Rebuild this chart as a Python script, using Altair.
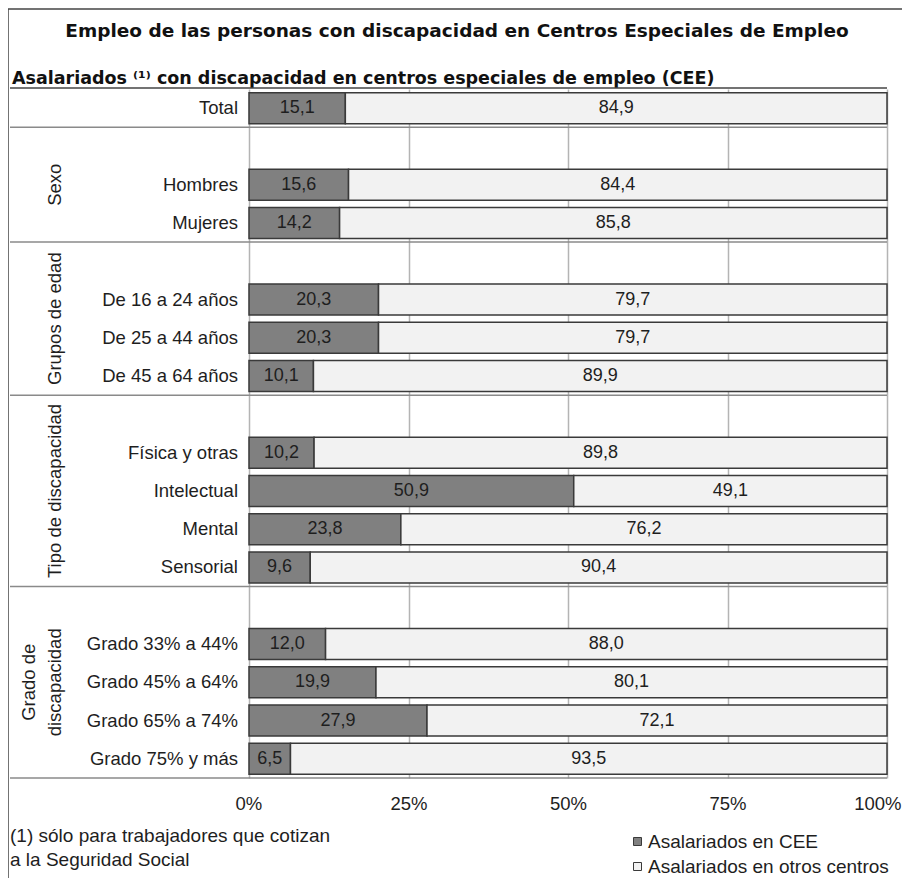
import altair as alt
import pandas as pd

# ---------------- data ----------------
labels = ["Total", "Hombres", "Mujeres",
          "De 16 a 24 años", "De 25 a 44 años", "De 45 a 64 años",
          "Física y otras", "Intelectual", "Mental", "Sensorial",
          "Grado 33% a 44%", "Grado 45% a 64%", "Grado 65% a 74%", "Grado 75% y más"]
cee = [15.1, 15.6, 14.2, 20.3, 20.3, 10.1, 10.2, 50.9, 23.8, 9.6, 12.0, 19.9, 27.9, 6.5]
otros = [84.9, 84.4, 85.8, 79.7, 79.7, 89.9, 89.8, 49.1, 76.2, 90.4, 88.0, 80.1, 72.1, 93.5]
row_order = ["Total", "_b1", "Hombres", "Mujeres", "_b2",
             "De 16 a 24 años", "De 25 a 44 años", "De 45 a 64 años", "_b3",
             "Física y otras", "Intelectual", "Mental", "Sensorial", "_b4",
             "Grado 33% a 44%", "Grado 45% a 64%", "Grado 65% a 74%", "Grado 75% y más"]
group_last = ["Total", "Mujeres", "De 45 a 64 años", "Sensorial", "Grado 75% y más"]
group_names = ["Sexo", "Grupos de edad", "Tipo de discapacidad"]
group_spans = [(1, 4), (4, 8), (8, 13)]
grado_lines = ["Grado de", "discapacidad"]
grado_span = (13, 18)
series = ["Asalariados en CEE", "Asalariados en otros centros"]
colors = ["#808080", "#f2f2f2"]
tick_values = [0, 25, 50, 75, 100]

title = "Empleo de las personas con discapacidad en Centros Especiales de Empleo"
subtitle = "Asalariados ⁽¹⁾ con discapacidad en centros especiales de empleo (CEE)"
foot = ["(1) sólo para trabajadores que cotizan", "a la Seguridad Social"]

# ---------------- layout ----------------
W, H = 638, 689
step = H / len(row_order)
PAD_IN = 0.19
FONT = "Liberation Sans"
TXT = "#1e1e1e"


def fmt(v):
    return f"{v:.1f}".replace(".", ",")


rows = []
for lab, a, b in zip(labels, cee, otros):
    rows.append(dict(key=lab, serie=series[0], x0=0, x1=a, mid=a / 2, txt=fmt(a)))
    rows.append(dict(key=lab, serie=series[1], x0=a, x1=a + b, mid=a + b / 2, txt=fmt(b)))
bars_df = pd.DataFrame(rows)
labels_df = pd.DataFrame({"key": labels})
sep_df = pd.DataFrame({"key": group_last})

xsc = alt.Scale(domain=[0, 100], nice=False, zero=True)
ysc = alt.Scale(domain=row_order, paddingInner=PAD_IN, paddingOuter=PAD_IN / 2)
sep_offset = step * PAD_IN / 2

x_axis = alt.Axis(values=tick_values, grid=True, gridColor="#b4b4b4", gridWidth=1.5,
                  domain=False, ticks=False, tickSize=0, labelPadding=16,
                  labelFlush=True, labelFlushOffset=14,
                  labelExpr="datum.value + '%'", labelFont=FONT, labelFontSize=18.5,
                  labelColor=TXT, title=None)

bars = alt.Chart(bars_df).mark_bar(stroke="#3a3a3a", strokeWidth=1.5).encode(
    y=alt.Y("key:N", scale=ysc, axis=None),
    x=alt.X("x0:Q", scale=xsc, axis=x_axis),
    x2="x1:Q",
    color=alt.Color("serie:N", scale=alt.Scale(domain=series, range=colors),
                    legend=alt.Legend(orient="none", legendX=379, legendY=743, title=None,
                                      symbolType="square", symbolSize=64,
                                      symbolStrokeColor="#3a3a3a", symbolStrokeWidth=1,
                                      labelFont=FONT, labelFontSize=19, labelColor=TXT,
                                      labelLimit=400, labelOffset=1, rowPadding=5)),
)

values = alt.Chart(bars_df).mark_text(font=FONT, fontSize=18, color=TXT, baseline="middle").encode(
    y=alt.Y("key:N", scale=ysc, axis=None),
    x=alt.X("mid:Q", scale=xsc, axis=x_axis),
    text="txt:N",
)

cat_labels = alt.Chart(labels_df).mark_text(font=FONT, fontSize=18.5, color=TXT, align="right",
                                            baseline="middle").encode(
    y=alt.Y("key:N", scale=ysc, axis=None),
    x=alt.value(-11),
    text="key:N",
)

separators = alt.Chart(sep_df).mark_rule(color="#8a8a8a", strokeWidth=1.5, yOffset=sep_offset).encode(
    y=alt.Y("key:N", scale=ysc, axis=None, bandPosition=1),
    x=alt.value(-239),
    x2=alt.value(W),
)

layers = [bars, separators, values, cat_labels]

# group labels (rotated)
for name, (s, e) in zip(group_names, group_spans):
    layers.append(alt.Chart(pd.DataFrame({"t": [name]})).mark_text(
        font=FONT, fontSize=18.5, color=TXT, angle=270, align="center", baseline="middle").encode(
        text="t:N", x=alt.value(-194), y=alt.value((s + e) / 2 * step)))
for txt, xx in zip(grado_lines, [-220, -194]):
    layers.append(alt.Chart(pd.DataFrame({"t": [txt]})).mark_text(
        font=FONT, fontSize=18.5, color=TXT, angle=270, align="center", baseline="middle").encode(
        text="t:N", x=alt.value(xx), y=alt.value((grado_span[0] + grado_span[1]) / 2 * step)))

# title, subtitle, frame
layers.append(alt.Chart(pd.DataFrame({"t": [title]})).mark_text(
    font="DejaVu Sans", fontWeight="bold", fontSize=18.5, color="#111", align="center",
    baseline="alphabetic").encode(text="t:N", x=alt.value(208), y=alt.value(-52)))
layers.append(alt.Chart(pd.DataFrame({"t": [subtitle]})).mark_text(
    font="DejaVu Sans", fontWeight="bold", fontSize=17.5, color="#111", align="left",
    baseline="alphabetic").encode(text="t:N", x=alt.value(-237), y=alt.value(-5)))
layers.append(alt.Chart(pd.DataFrame({"a": [0]})).mark_rule(color="#444", strokeWidth=1.5).encode(
    x=alt.value(-239), x2=alt.value(W), y=alt.value(-1)))
layers.append(alt.Chart(pd.DataFrame({"a": [0]})).mark_rule(color="#444", strokeWidth=1.5).encode(
    x=alt.value(-241), x2=alt.value(W + 30), y=alt.value(-80)))
layers.append(alt.Chart(pd.DataFrame({"a": [0]})).mark_rule(color="#444", strokeWidth=1.5).encode(
    x=alt.value(-241), y=alt.value(-80), y2=alt.value(H + 120)))

# footnote
for i, line in enumerate(foot):
    layers.append(alt.Chart(pd.DataFrame({"t": [line]})).mark_text(
        font=FONT, fontSize=19, color=TXT, align="left", baseline="middle").encode(
        text="t:N", x=alt.value(-239), y=alt.value(747 + 24 * i)))

chart = alt.layer(*layers).properties(
    width=W, height=H,
    autosize=alt.AutoSizeParams(type="none"),
    padding={"left": 241, "top": 81, "right": 15, "bottom": 100},
).configure_view(stroke=None)

chart.save("out.html", embed_options={"renderer": "svg", "actions": False})
